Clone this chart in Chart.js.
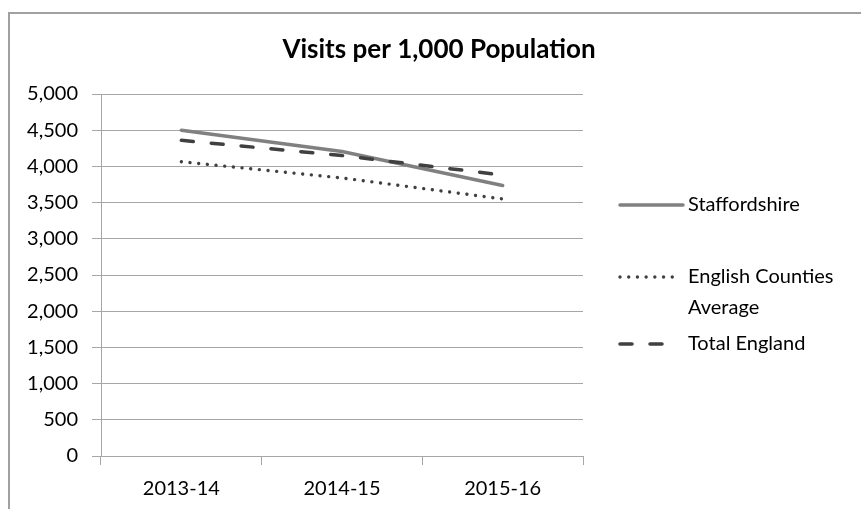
<!DOCTYPE html>
<html>
<head>
<meta charset="utf-8">
<script src="https://cdn.jsdelivr.net/npm/chart.js@4"></script>
<style>
    html, body { margin: 0; padding: 0; background: #fff; }
    #wrap { width: 861px; height: 509px; }
</style>
</head>
<body>
<div id="wrap"><canvas id="chart" width="861" height="509"></canvas></div>
<script>
/* globals Chart */

const years = ['2013-14', '2014-15', '2015-16'];
const staffordshire = [4500, 4205, 3735];
const countiesAvg = [4065, 3840, 3550];
const totalEngland = [4360, 4150, 3880];
const yTicks = [0, 500, 1000, 1500, 2000, 2500, 3000, 3500, 4000, 4500, 5000];

const chartTitle = 'Visits per 1,000 Population';

const FONT = 'Lato, "Open Sans", sans-serif';
const GRID = '#a6a6a6';

// outer frame + title, like the Excel chart box
const framePlugin = {
    id: 'frame',
    beforeDraw( chart ){
        const ctx = chart.ctx;
        ctx.save();
        ctx.fillStyle = '#fff';
        ctx.fillRect( 0, 0, chart.width, chart.height );
        ctx.strokeStyle = '#a0a0a0';
        ctx.lineWidth = 2;
        ctx.beginPath();
        ctx.moveTo( 9, chart.height + 5 );
        ctx.lineTo( 9, 13 );
        ctx.lineTo( chart.width + 5, 13 );
        ctx.stroke();

        ctx.fillStyle = '#000';
        ctx.font = 'bold 26px ' + FONT;
        ctx.textAlign = 'center';
        ctx.textBaseline = 'middle';
        ctx.fillText( chartTitle, 439, 50 );
        ctx.restore();
    }
};

// legend drawn by hand so "English Counties Average" can wrap
const legendPlugin = {
    id: 'sideLegend',
    afterDraw( chart ){
        const ctx = chart.ctx;
        const items = [
            { ds: 0, y: 205, len: 63, lines: ['Staffordshire'] },
            { ds: 1, y: 277, len: 53, lines: ['English Counties', 'Average'] },
            { ds: 2, y: 344, len: 47, lines: ['Total England'] }
        ];
        ctx.save();
        items.forEach( item => {
            const ds = chart.data.datasets[item.ds];
            ctx.strokeStyle = ds.borderColor;
            ctx.lineWidth = ds.borderWidth;
            ctx.lineCap = ds.borderCapStyle;
            ctx.setLineDash( ds.borderDash || [] );
            ctx.beginPath();
            ctx.moveTo( 620, item.y );
            ctx.lineTo( 620 + item.len, item.y );
            ctx.stroke();
            ctx.setLineDash( [] );
            ctx.fillStyle = '#000';
            ctx.font = '20px ' + FONT;
            ctx.textBaseline = 'middle';
            ctx.textAlign = 'left';
            item.lines.forEach( ( t, i ) => ctx.fillText( t, 688, item.y + i * 31 ) );
        } );
        ctx.restore();
    }
};

new Chart( document.getElementById( 'chart' ), {
    type: 'line',
    data: {
        labels: years,
        datasets: [
            {
                label: 'Staffordshire',
                data: staffordshire,
                borderColor: '#808080',
                borderWidth: 3.5,
                borderCapStyle: 'round',
                pointRadius: 0,
                order: 2
            },
            {
                label: 'English Counties Average',
                data: countiesAvg,
                borderColor: '#404040',
                borderWidth: 3.4,
                borderCapStyle: 'round',
                borderDash: [0.01, 8.7],
                pointRadius: 0,
                order: 1
            },
            {
                label: 'Total England',
                data: totalEngland,
                borderColor: '#404040',
                borderWidth: 3.5,
                borderCapStyle: 'round',
                borderDash: [12, 18],
                pointRadius: 0,
                order: 0
            }
        ]
    },
    options: {
        responsive: false,
        animation: false,
        devicePixelRatio: 1,
        layout: { padding: { top: 94, right: 278, bottom: 0, left: 0 } },
        plugins: {
            legend: { display: false },
            tooltip: { enabled: false },
            title: { display: false }
        },
        scales: {
            x: {
                offset: true,
                grid: {
                    offset: true,
                    drawOnChartArea: false,
                    drawTicks: true,
                    tickLength: 9,
                    color: GRID
                },
                border: { color: GRID, width: 1 },
                ticks: {
                    color: '#000',
                    font: { family: FONT, size: 20 },
                    padding: 12
                },
                afterFit( scale ){ scale.height = 53; }
            },
            y: {
                min: 0,
                max: 5000,
                afterBuildTicks( scale ){ scale.ticks = yTicks.map( v => ( { value: v } ) ); },
                grid: { color: GRID, tickLength: 9 },
                border: { color: GRID, width: 1 },
                ticks: {
                    color: '#000',
                    font: { family: FONT, size: 20 },
                    padding: 14,
                    callback: v => v.toLocaleString( 'en-US' )
                },
                afterFit( scale ){ scale.width = 101; }
            }
        }
    },
    plugins: [framePlugin, legendPlugin]
} );
</script>
</body>
</html>
